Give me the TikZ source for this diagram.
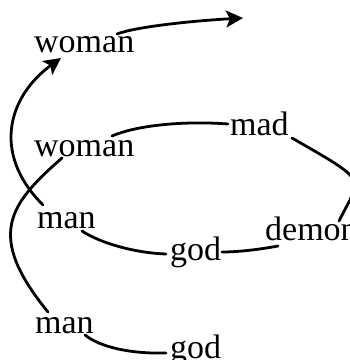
\documentclass[tikz,border=0pt]{standalone}
\usepackage{fontspec}
\setmainfont{Liberation Serif}
\usetikzlibrary{arrows.meta}
\begin{document}
\begin{tikzpicture}[x=1pt,y=-1pt,
  word/.style={anchor=base west,inner sep=0pt,font=\fontsize{34}{40}\selectfont},
  link/.style={line width=2.8pt,line cap=round},
  arr/.style={link,-{Stealth[length=17pt,width=17pt,inset=4pt]}}]
\useasboundingbox (0,0) rectangle (350,360);
\clip (0,0) rectangle (350,360);
\node[word] (wt) at (34,52) {woman};
\node[word] (wm) at (34,156) {woman};
\node[word] (md) at (230,135) {mad};
\node[word] (mm) at (37,228) {man};
\node[word] (dm) at (265,240) {demon};
\node[word] (gm) at (170,260) {god};
\node[word] (mb) at (35,333) {man};
\node[word] (gb) at (170,358) {god};
\coordinate (tip) at (243,18);
% top outgoing arrow
\draw[arr] ([shift={(83,-18)}]wt.base west) .. controls (135,27) and (190,21) .. (tip);
% man (middle) -> woman (top)
\draw[arr] ([shift={(6,-23)}]mm.base west) .. controls (-10,152) and (10,95) .. ([shift={(27,6)}]wt.base west);
% man (bottom) -> woman (middle)
\draw[link] ([shift={(13,-21)}]mb.base west) .. controls (-15,235) and (9.5,204) .. ([shift={(28,2)}]wm.base west);
% woman (middle) -> mad
\draw[link] ([shift={(78,-20)}]wm.base west) .. controls (140,124) and (190,121) .. ([shift={(-2,-11)}]md.base west);
% mad -> demon
\draw[link] ([shift={(62,3)}]md.base west) .. controls (370,183) and (361.5,176) .. ([shift={(74,-19)}]dm.base west);
% demon -> god
\draw[link] ([shift={(13,6)}]dm.base west) .. controls (262,249) and (240,252) .. ([shift={(52,-8)}]gm.base west);
% god -> man (middle)
\draw[link] ([shift={(-4,-6)}]gm.base west) .. controls (135,253) and (100,243) .. ([shift={(45,3)}]mm.base west);
% man (bottom) -> god (bottom)
\draw[link] ([shift={(50,2)}]mb.base west) .. controls (100,347) and (130,354) .. ([shift={(-4,-5)}]gb.base west);
\end{tikzpicture}
\end{document}
